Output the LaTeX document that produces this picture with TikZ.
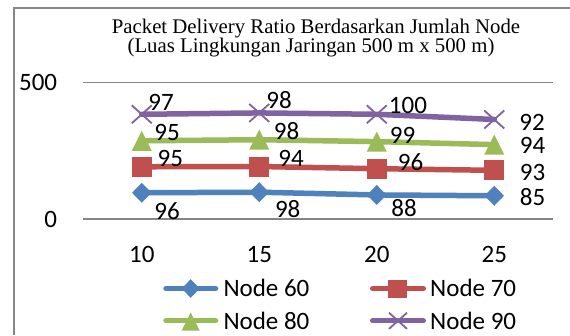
\documentclass[tikz,border=0pt]{standalone}
\usepackage{fontspec}
\setmainfont{Liberation Serif}
\newfontfamily\calib{Carlito}
\definecolor{s60}{RGB}{79,129,189}
\definecolor{s70}{RGB}{192,80,77}
\definecolor{s80}{RGB}{155,187,89}
\definecolor{s90}{RGB}{128,100,162}
\definecolor{gridgray}{RGB}{134,134,134}
\begin{document}
\begin{tikzpicture}[x=1pt,y=-1pt,
  lbl/.style={font=\calib\fontsize{25}{30}\selectfont, inner sep=0pt, anchor=base},
  ttl/.style={font=\fontsize{20.8}{24}\selectfont, inner sep=0pt, anchor=base},
  serline/.style={line width=5.5pt, line cap=round, line join=round},
  gridline/.style={gridgray, line width=1.3pt},
  diam/.pic={\fill[s60] (-9.7,0) -- (0,-10) -- (9.7,0) -- (0,10) -- cycle;},
  sqr/.pic={\fill[s70] (-10,-10) rectangle (10,10);},
  tri/.pic={\fill[s80] (-10,10) -- (10,10) -- (0,-10) -- cycle;},
  xmark/.pic={\draw[s90, line width=1.8pt] (-10,-9) -- (10,9) (-10,9) -- (10,-9);}
]
\useasboundingbox (0,0) rectangle (570,335);
\fill[white] (0,0) rectangle (570,335);

% chart frame (top and left edges)
\draw[gridgray, line width=2pt] (13.5,335) -- (13.5,8) -- (570,8);

% title
\node[ttl] (t1) at (316,33) {Packet Delivery Ratio Berdasarkan Jumlah Node};
\node[ttl] (t2) at (311,52) {(Luas Lingkungan Jaringan 500 m x 500 m)};

% gridlines and value axis
\draw[gridline] (83,82.3) -- (552.7,82.3);
\draw[gridline] (83,219) -- (552.7,219);
\node[lbl, anchor=base east] (y500) at (57.3,90.7) {500};
\node[lbl, anchor=base east] (y0) at (57.3,227.2) {0};

% category axis
\node[lbl] (x10) at (141.75,262.3) {10};
\node[lbl] (x15) at (259.25,262.3) {15};
\node[lbl] (x20) at (376.75,262.3) {20};
\node[lbl] (x25) at (494.25,262.3) {25};

% stacked data points
\coordinate (a1) at (141.75,192.75); \coordinate (a2) at (259.25,192.21);
\coordinate (a3) at (376.75,194.94); \coordinate (a4) at (494.25,195.76);
\coordinate (b1) at (141.75,166.78); \coordinate (b2) at (259.25,166.51);
\coordinate (b3) at (376.75,168.69); \coordinate (b4) at (494.25,170.33);
\coordinate (c1) at (141.75,140.81); \coordinate (c2) at (259.25,139.71);
\coordinate (c3) at (376.75,141.63); \coordinate (c4) at (494.25,144.64);
\coordinate (d1) at (141.75,114.29); \coordinate (d2) at (259.25,112.92);
\coordinate (d3) at (376.75,114.29); \coordinate (d4) at (494.25,119.48);

% Node 60
\draw[serline, s60] (a1) -- (a2) -- (a3) -- (a4);
\foreach \p in {a1,a2,a3,a4} \pic at (\p) {diam};
% Node 70
\draw[serline, s70] (b1) -- (b2) -- (b3) -- (b4);
\foreach \p in {b1,b2,b3,b4} \pic at (\p) {sqr};
% Node 80
\draw[serline, s80] (c1) -- (c2) -- (c3) -- (c4);
\foreach \p in {c1,c2,c3,c4} \pic at (\p) {tri};
% Node 90
\draw[serline, s90] (d1) -- (d2) -- (d3) -- (d4);
\foreach \p in {d1,d2,d3,d4} \pic at (\p) {xmark};

% data labels
\node[lbl] (ld1) at (161,110) {97};
\node[lbl] (ld2) at (279,108.5) {98};
\node[lbl] (ld3) at (408,113) {100};
\node[lbl] (ld4) at (532,130) {92};
\node[lbl] (lc1) at (167,140) {95};
\node[lbl] (lc2) at (286.5,139) {98};
\node[lbl] (lc3) at (402.5,143.3) {99};
\node[lbl] (lc4) at (532.5,153.3) {94};
\node[lbl] (lb1) at (170.3,166.7) {95};
\node[lbl] (lb2) at (291,166.5) {94};
\node[lbl] (lb3) at (410.5,170) {96};
\node[lbl] (lb4) at (532.5,180) {93};
\node[lbl] (la1) at (167,219.5) {96};
\node[lbl] (la2) at (287.7,217) {98};
\node[lbl] (la3) at (404,216.7) {88};
\node[lbl] (la4) at (532.5,205) {85};

% legend
\coordinate (g60a) at (166,288.5); \coordinate (g60b) at (215.5,288.5);
\coordinate (g70a) at (372.7,288.5); \coordinate (g70b) at (423.3,288.5);
\coordinate (g80a) at (166,320.7); \coordinate (g80b) at (215.5,320.7);
\coordinate (g90a) at (372.7,320.7); \coordinate (g90b) at (423.3,320.7);
\draw[serline, s60] (g60a) -- (g60b);
\pic[scale=0.93] at (190.7,288.5) {diam};
\draw[serline, s70] (g70a) -- (g70b);
\pic[scale=0.93] at (397.5,288.8) {sqr};
\draw[serline, s80] (g80a) -- (g80b);
\pic[scale=0.9] at (190.7,321.5) {tri};
\draw[serline, s90] (g90a) -- (g90b);
\pic[scale=0.9] at (398,320.8) {xmark};
\node[lbl, anchor=base west] (n60) at (223.3,296.7) {Node 60};
\node[lbl, anchor=base west] (n70) at (430,296.7) {Node 70};
\node[lbl, anchor=base west] (n80) at (223.3,329) {Node 80};
\node[lbl, anchor=base west] (n90) at (430,329) {Node 90};
\end{tikzpicture}
\end{document}
